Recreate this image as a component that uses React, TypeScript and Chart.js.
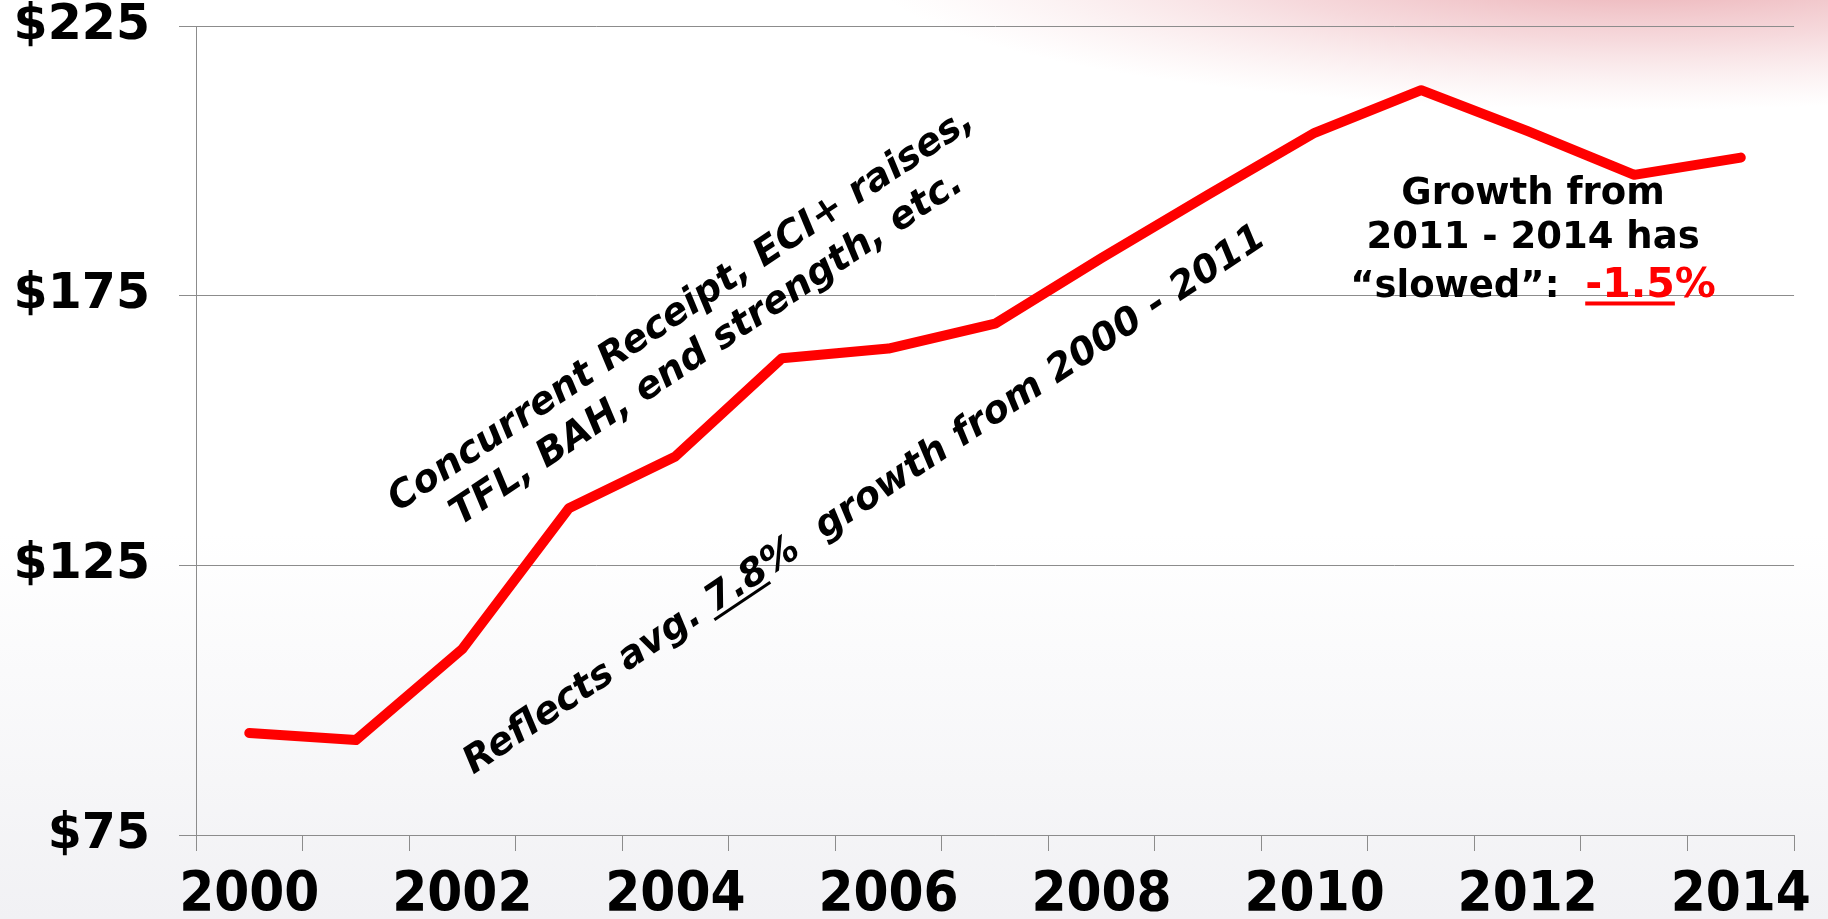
import React, { useEffect, useRef } from 'react';
import { Chart, registerables } from 'chart.js';

Chart.register(...registerables);

const years = ['2000', '2001', '2002', '2003', '2004', '2005', '2006', '2007', '2008', '2009', '2010', '2011', '2012', '2013', '2014'];
const spending = [93.9, 92.6, 109.5, 135.6, 145.2, 163.4, 165.2, 169.8, 182.0, 193.7, 205.2, 213.1, 205.5, 197.4, 200.6];
const yTickValues = [75, 125, 175, 225];

const noteDriversLine1 = 'Concurrent Receipt, ECI+ raises,';
const noteDriversLine2 = 'TFL, BAH, end strength, etc.';
const noteGrowthPre = 'Reflects avg. ';
const noteGrowthRate = '7.8';
const noteGrowthPost = '%  growth from 2000 - 2011';
const noteSlowLine1 = 'Growth from';
const noteSlowLine2 = '2011 - 2014 has';
const noteSlowLine3 = '\u201Cslowed\u201D:  ';
const noteSlowRate = '-1.5';
const noteSlowPct = '%';

const ROT_FONT = 'italic bold 38px "DejaVu Sans", Verdana, sans-serif';
const BOX_FONT = 'bold 37px "DejaVu Sans", Verdana, sans-serif';
const RED_FONT = 'bold 41px "DejaVu Sans", Verdana, sans-serif';
const GRID = '#8c8c8c';

const backgroundPlugin = {
  id: 'bgPaint',
  beforeDraw(chart: any) {
    const { ctx, width, height } = chart;
    ctx.save();
    const g = ctx.createLinearGradient(0, 0, 0, height);
    g.addColorStop(0, '#ffffff');
    g.addColorStop(0.58, '#ffffff');
    g.addColorStop(1, '#f1f1f4');
    ctx.fillStyle = g;
    ctx.fillRect(0, 0, width, height);
    ctx.translate(1640, -30);
    ctx.scale(5.5, 1);
    const r = ctx.createRadialGradient(0, 0, 0, 0, 0, 140);
    r.addColorStop(0, 'rgba(215,95,105,0.55)');
    r.addColorStop(0.5, 'rgba(225,130,140,0.3)');
    r.addColorStop(1, 'rgba(235,170,175,0)');
    ctx.fillStyle = r;
    ctx.beginPath();
    ctx.arc(0, 0, 140, 0, Math.PI * 2);
    ctx.fill();
    ctx.restore();
  },
};

const notesPlugin = {
  id: 'notes',
  afterDatasetsDraw(chart: any) {
    const { ctx } = chart;
    const x = chart.scales.x;
    const y = chart.scales.y;
    const ang = (-33.8 * Math.PI) / 180;
    ctx.save();
    ctx.fillStyle = '#000';

    ctx.save();
    ctx.translate(x.getPixelForValue(4.11), y.getPixelForValue(170.7));
    ctx.rotate(ang);
    ctx.font = ROT_FONT;
    ctx.textAlign = 'center';
    ctx.textBaseline = 'alphabetic';
    ctx.fillText(noteDriversLine1, 0, 0);
    ctx.fillText(noteDriversLine2, 0, 46);
    ctx.restore();

    ctx.save();
    ctx.translate(x.getPixelForValue(5.83), y.getPixelForValue(135.5));
    ctx.rotate(ang);
    ctx.font = ROT_FONT;
    ctx.textAlign = 'left';
    ctx.textBaseline = 'alphabetic';
    const w1 = ctx.measureText(noteGrowthPre).width;
    const w2 = ctx.measureText(noteGrowthRate).width;
    const w3 = ctx.measureText(noteGrowthPost).width;
    const sx = -(w1 + w2 + w3) / 2;
    ctx.fillText(noteGrowthPre, sx, 0);
    ctx.fillText(noteGrowthRate, sx + w1, 0);
    ctx.fillRect(sx + w1 - 4, 4, w2, 3);
    ctx.fillText(noteGrowthPost, sx + w1 + w2, 0);
    ctx.restore();

    const cx = x.getPixelForValue(12.05);
    const by = y.getPixelForValue(192);
    ctx.textBaseline = 'alphabetic';
    ctx.textAlign = 'center';
    ctx.font = BOX_FONT;
    ctx.fillText(noteSlowLine1, cx, by);
    ctx.fillText(noteSlowLine2, cx, by + 44);
    ctx.textAlign = 'left';
    const a = ctx.measureText(noteSlowLine3).width;
    ctx.font = RED_FONT;
    const b = ctx.measureText(noteSlowRate).width;
    const c = ctx.measureText(noteSlowPct).width;
    const start = cx - (a + b + c) / 2;
    const l3 = by + 93.5;
    ctx.font = BOX_FONT;
    ctx.fillStyle = '#000';
    ctx.fillText(noteSlowLine3, start, l3);
    ctx.font = RED_FONT;
    ctx.fillStyle = '#ff0000';
    ctx.fillText(noteSlowRate, start + a, l3);
    ctx.fillRect(start + a, l3 + 4, b, 4);
    ctx.fillText(noteSlowPct, start + a + b, l3);
    ctx.restore();
  },
};

export default function App() {
  const ref = useRef<HTMLCanvasElement>(null);
  useEffect(() => {
    const prevMargin = document.body.style.margin;
    document.body.style.margin = '0';
    const chart = new Chart(ref.current as HTMLCanvasElement, {
      type: 'line',
      data: {
        labels: years,
        datasets: [
          {
            data: spending,
            borderColor: '#ff0000',
            borderWidth: 10,
            pointRadius: 0,
            pointHoverRadius: 0,
            tension: 0,
            fill: false,
            borderCapStyle: 'round',
            borderJoinStyle: 'round',
          },
        ],
      },
      options: {
        animation: false,
        responsive: false,
        devicePixelRatio: 1,
        events: [],
        layout: { padding: { top: 26, right: 33, left: 0, bottom: 0 } },
        plugins: { legend: { display: false }, tooltip: { enabled: false }, title: { display: false } },
        scales: {
          x: {
            type: 'category',
            offset: true,
            grid: { offset: true, drawOnChartArea: false, drawTicks: true, tickLength: 16, color: GRID, lineWidth: 1 },
            border: { display: true, color: GRID, width: 1 },
            ticks: {
              autoSkip: false,
              maxRotation: 0,
              minRotation: 0,
              padding: 16,
              color: '#000',
              font: { family: '"DejaVu Sans Condensed", "Liberation Sans Narrow", "DejaVu Sans", sans-serif', weight: 'bold', size: 56, lineHeight: 1 },
              callback: (_v: any, i: number) => (i % 2 === 0 ? years[i] : ''),
            },
            afterFit: (s: any) => {
              s.height = 84;
            },
          },
          y: {
            min: yTickValues[0],
            max: yTickValues[yTickValues.length - 1],
            afterBuildTicks: (s: any) => {
              s.ticks = yTickValues.map((v) => ({ value: v }));
            },
            grid: { color: GRID, lineWidth: 1, drawTicks: true, tickLength: 17 },
            border: { display: true, color: GRID, width: 1 },
            ticks: {
              padding: 29,
              color: '#000',
              font: { family: '"DejaVu Sans", Verdana, sans-serif', weight: 'bold', size: 49, lineHeight: 1 },
              callback: (v: any) => '$' + v,
            },
            afterFit: (s: any) => {
              s.width = 196;
              s.paddingTop = 0;
              s.paddingBottom = 0;
            },
          },
        },
      },
      plugins: [backgroundPlugin, notesPlugin],
    } as any);
    return () => {
      chart.destroy();
      document.body.style.margin = prevMargin;
    };
  }, []);
  return (
    <div style={{ position: 'fixed', left: 0, top: 0, width: 1828, height: 919, overflow: 'hidden' }}>
      <canvas ref={ref} width={1828} height={919} style={{ display: 'block', width: 1828, height: 919 }} />
    </div>
  );
}
